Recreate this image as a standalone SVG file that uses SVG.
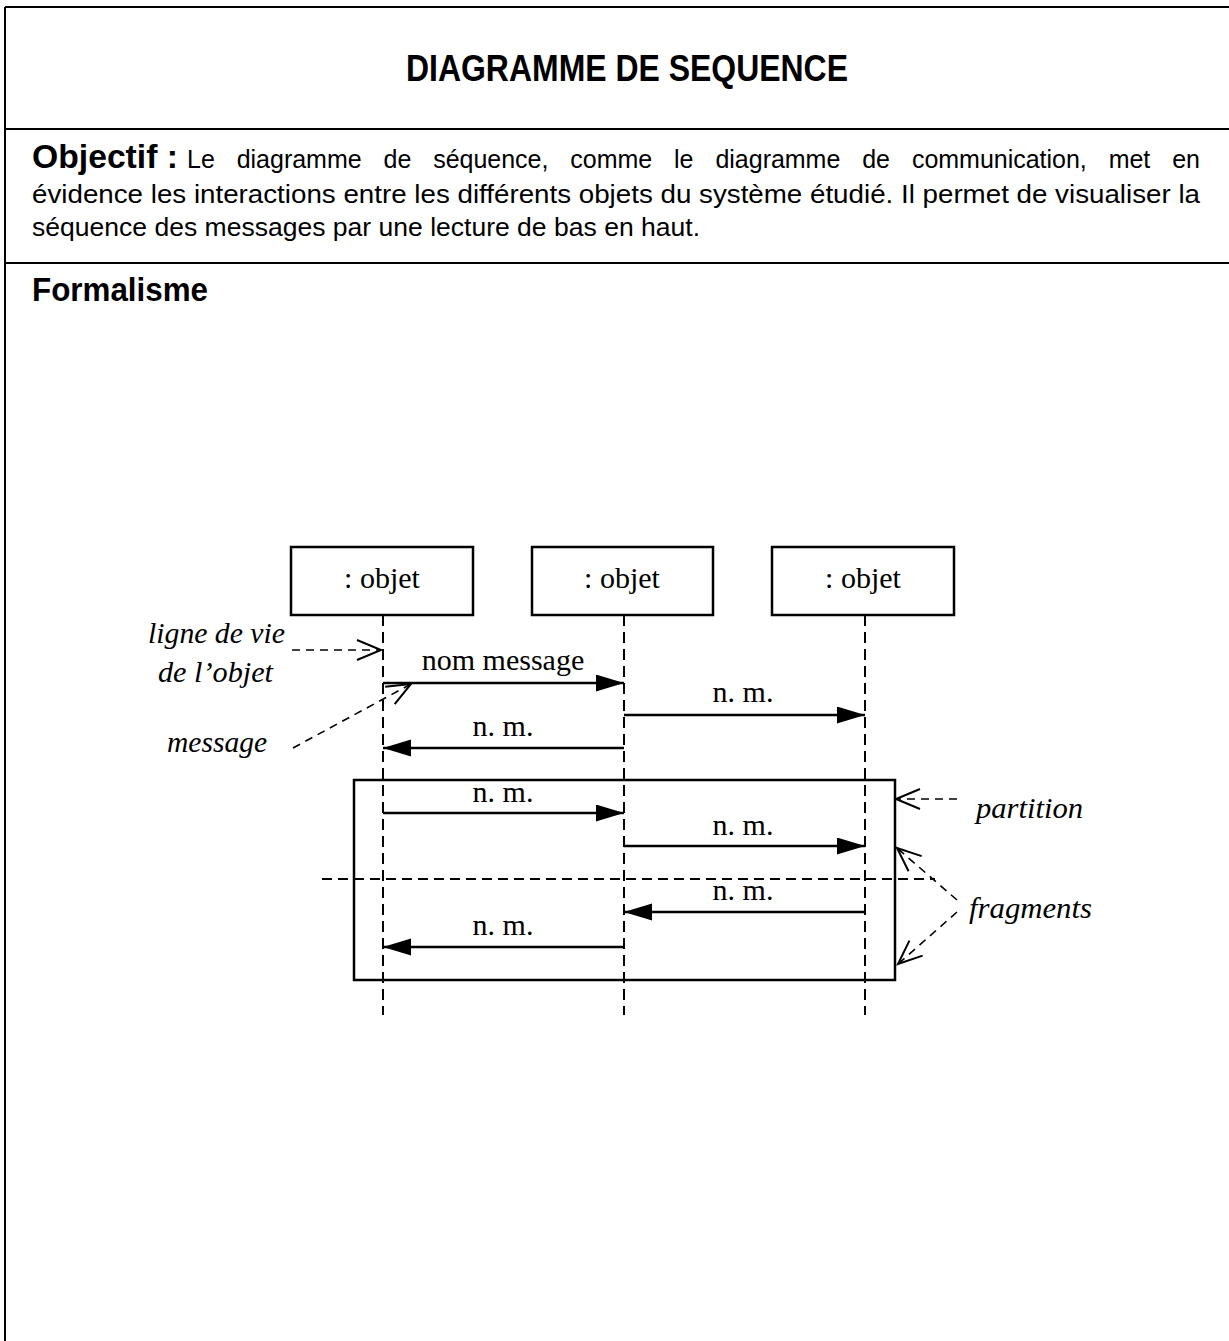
<svg xmlns="http://www.w3.org/2000/svg" width="1229" height="1341" viewBox="0 0 1229 1341">
<style>
.frame{stroke:#000;stroke-width:2;fill:none}
.sans{font-family:"Liberation Sans",Arial,sans-serif;fill:#000}
.serif{font-family:"Liberation Serif","Times New Roman",serif;fill:#000}
.it{font-family:"Liberation Serif","Times New Roman",serif;font-style:italic;fill:#000;font-size:29px}
.box{fill:#fff;stroke:#000;stroke-width:2.5}
.life{stroke:#000;stroke-width:2;stroke-dasharray:11,6;fill:none}
.msg{stroke:#000;stroke-width:2.5;fill:none;marker-end:url(#filled)}
.note{stroke:#000;stroke-width:1.6;stroke-dasharray:8,6;fill:none;marker-end:url(#open)}
.lbl{font-size:30px;text-anchor:middle}
</style>
<defs>
<marker id="filled" markerUnits="userSpaceOnUse" markerWidth="30" markerHeight="18" refX="28" refY="8.5" orient="auto">
<path d="M0,0 L28,8.5 L0,17 z" fill="#000"/>
</marker>
<marker id="open" markerUnits="userSpaceOnUse" markerWidth="30" markerHeight="24" refX="25" refY="11" orient="auto">
<path d="M1,1 L25,11 L1,21" fill="none" stroke="#000" stroke-width="2" stroke-dasharray="none"/>
</marker>
</defs>
<rect width="1229" height="1341" fill="#fff"/>
<g id="frame">
<line class="frame" x1="5" y1="7" x2="1229" y2="7"/>
<line class="frame" x1="5" y1="7" x2="5" y2="1341"/>
<line class="frame" x1="5" y1="129" x2="1229" y2="129"/>
<line class="frame" x1="5" y1="263" x2="1229" y2="263"/>
</g>
<g id="header">
<text class="sans" x="627" y="81" font-size="36" font-weight="bold" text-anchor="middle" textLength="442" lengthAdjust="spacingAndGlyphs">DIAGRAMME DE SEQUENCE</text>
<text class="sans" x="32" y="168" font-size="33" font-weight="bold" textLength="146" lengthAdjust="spacingAndGlyphs">Objectif :</text>
<g class="sans" font-size="25">
<text x="187" y="168" word-spacing="15" textLength="1013" lengthAdjust="spacing">Le diagramme de séquence, comme le diagramme de communication, met en</text>
<text x="32" y="203" textLength="1168" lengthAdjust="spacingAndGlyphs">évidence les interactions entre les différents objets du système étudié. Il permet de visualiser la</text>
<text x="32" y="236" textLength="668" lengthAdjust="spacingAndGlyphs">séquence des messages par une lecture de bas en haut.</text>
</g>
<text class="sans" x="32" y="301" font-size="33" font-weight="bold" textLength="176" lengthAdjust="spacingAndGlyphs">Formalisme</text>
</g>
<g id="fragment-frame">
<rect x="354" y="780" width="541" height="200" fill="none" stroke="#000" stroke-width="2.5"/>
</g>
<g id="obj1">
<line class="life" x1="383" y1="615" x2="383" y2="1015"/>
<rect class="box" x="291" y="547" width="182" height="68"/>
<text class="serif" x="382" y="588" font-size="30" text-anchor="middle">: objet</text>
</g>
<g id="obj2">
<line class="life" x1="624" y1="615" x2="624" y2="1015"/>
<rect class="box" x="532" y="547" width="181" height="68"/>
<text class="serif" x="622" y="588" font-size="30" text-anchor="middle">: objet</text>
</g>
<g id="obj3">
<line class="life" x1="865" y1="615" x2="865" y2="1015"/>
<rect class="box" x="772" y="547" width="182" height="68"/>
<text class="serif" x="863" y="588" font-size="30" text-anchor="middle">: objet</text>
</g>
<g id="connectors">
<line x1="322" y1="879" x2="935" y2="879" stroke="#000" stroke-width="2" stroke-dasharray="10,6"/>
<line class="msg" x1="383" y1="683" x2="624" y2="683"/>
<line class="msg" x1="624" y1="715" x2="865" y2="715"/>
<line class="msg" x1="624" y1="748" x2="383" y2="748"/>
<line class="msg" x1="383" y1="813" x2="624" y2="813"/>
<line class="msg" x1="624" y1="846" x2="865" y2="846"/>
<line class="msg" x1="865" y1="912" x2="624" y2="912"/>
<line class="msg" x1="624" y1="947" x2="383" y2="947"/>
<path class="note" d="M292,650 L381,650"/>
<path class="note" d="M293,748 L411,684"/>
<path class="note" d="M957,799 L896,799"/>
<path class="note" d="M957,900 L897,848"/>
<path class="note" d="M957,912 L898,964"/>
</g>
<g id="labels" class="serif">
<text class="lbl" x="503" y="670">nom message</text>
<text class="lbl" x="743" y="702">n. m.</text>
<text class="lbl" x="503" y="736">n. m.</text>
<text class="lbl" x="503" y="802">n. m.</text>
<text class="lbl" x="743" y="835">n. m.</text>
<text class="lbl" x="743" y="900">n. m.</text>
<text class="lbl" x="503" y="935">n. m.</text>
</g>
<g id="annotations">
<text class="it" x="148" y="643" textLength="137" lengthAdjust="spacingAndGlyphs">ligne de vie</text>
<text class="it" x="158" y="682" textLength="115" lengthAdjust="spacingAndGlyphs">de l’objet</text>
<text class="it" x="167" y="752" textLength="100" lengthAdjust="spacingAndGlyphs">message</text>
<text class="it" x="976" y="818" textLength="107" lengthAdjust="spacingAndGlyphs">partition</text>
<text class="it" x="969" y="918" textLength="123" lengthAdjust="spacingAndGlyphs">fragments</text>
</g>
</svg>
